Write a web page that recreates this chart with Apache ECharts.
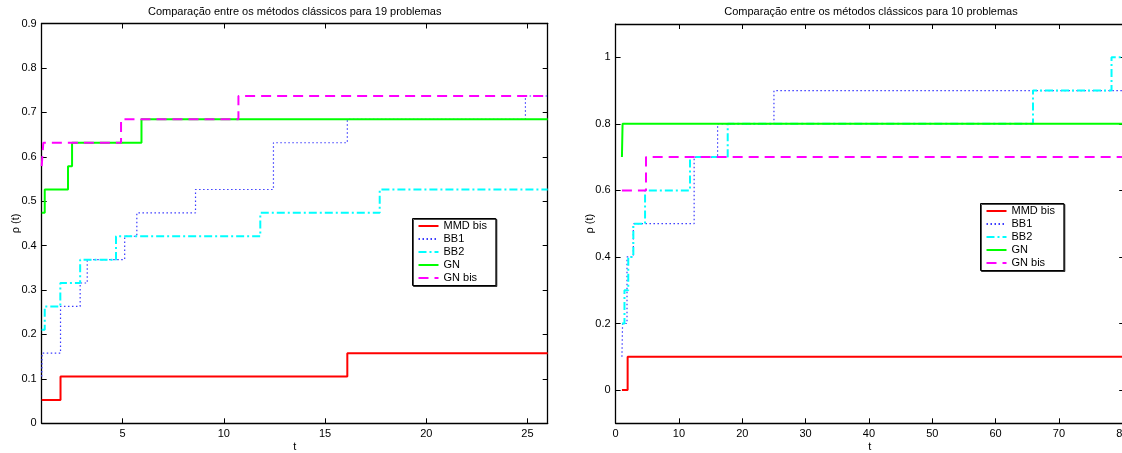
<!DOCTYPE html>
<html>
<head>
<meta charset="utf-8">
<script src="https://cdn.jsdelivr.net/npm/echarts@6/dist/echarts.min.js"></script>
<style>
  html, body { margin: 0; padding: 0; background: #fff; }
  #main { width: 1122px; height: 453px; }
</style>
</head>
<body>
<div id="main"></div>
<script>
// nomes das séries
var names = ['MMD bis', 'BB1', 'BB2', 'GN', 'GN bis'];

// gráfico da esquerda (19 problemas)
var xTicks19 = [5, 10, 15, 20, 25];
var mmd19T = [1, 1.93, 16.1, 26];
var mmd19V = [0.0526, 0.1053, 0.1579, 0.1579];
var bb1_19T = [1, 1.02, 1.93, 2.9, 3.25, 5.1, 5.7, 8.6, 12.45, 16.1, 24.9, 26];
var bb1_19V = [0.1053, 0.1579, 0.2632, 0.3158, 0.3684, 0.4211, 0.4737, 0.5263, 0.6316, 0.6842, 0.7368, 0.7368];
var bb2_19T = [1, 1.15, 1.92, 2.9, 4.67, 11.8, 17.7, 26];
var bb2_19V = [0.2105, 0.2632, 0.3158, 0.3684, 0.4211, 0.4737, 0.5263, 0.5263];
var gn19T = [1, 1.15, 2.3, 2.5, 5.93, 26];
var gn19V = [0.4737, 0.5263, 0.5789, 0.6316, 0.6842, 0.6842];
var gnbis19T = [1, 1.08, 4.92, 10.72, 26];
var gnbis19V = [0.5789, 0.6316, 0.6842, 0.7368, 0.7368];

// gráfico da direita (10 problemas)
var xTicks10 = [0, 10, 20, 30, 40, 50, 60, 70, 80];
var yTicks10 = [0, 0.2, 0.4, 0.6, 0.8, 1];
var mmd10T = [1, 1.9, 81];
var mmd10V = [0, 0.1, 0.1];
var bb1_10T = [1, 1.1, 1.8, 2.8, 12.4, 16.1, 25, 81];
var bb1_10V = [0.1, 0.2, 0.4, 0.5, 0.7, 0.8, 0.9, 0.9];
var bb2_10T = [1, 1.4, 2.0, 2.8, 4.65, 11.75, 17.7, 65.9, 78.3, 81];
var bb2_10V = [0.2, 0.3, 0.4, 0.5, 0.6, 0.7, 0.8, 0.9, 1.0, 1.0];
var gn10T = [1, 1.1, 81];
var gn10V = [0.7, 0.8, 0.8];
var gnbis10T = [1, 4.8, 81];
var gnbis10V = [0.6, 0.7, 0.7];

var FONT = '"Liberation Sans", Arial, Helvetica, sans-serif';

function pares(t, v){
    var arr = [];
    for(var i = 0; i < t.length; i++){
        arr.push([t[i], v[i]]);
    }
    return arr;
}

// estilos das linhas (cor, largura, tipo)
var estilos = [
    {color:'#ff0000', width:2, type:'solid'},
    {color:'#3b3bff', width:1.2, type:[1.5, 2.5]},
    {color:'#00ffff', width:2, type:[8, 3, 2, 3]},
    {color:'#00ff00', width:2, type:'solid'},
    {color:'#ff00ff', width:2, type:[10, 6]}
];

function serie(i, grid, t, v){
    return {
        name: names[i],
        type: 'line',
        step: 'end',
        symbol: 'none',
        xAxisIndex: grid * 2,
        yAxisIndex: grid * 2,
        data: pares(t, v),
        lineStyle: estilos[i],
        itemStyle: {color: estilos[i].color},
        animation: false
    };
}

function eixoX(grid, min, max, ticks, pos){
    var principal = pos === 'bottom';
    return {
        type: 'value', gridIndex: grid, position: pos,
        min: min, max: max,
        splitLine: {show: false},
        axisLine: {onZero: false, lineStyle: {color: '#000', width: 1.3}},
        axisTick: {inside: true, length: 5, customValues: ticks, lineStyle: {color: '#000'}},
        axisLabel: {show: principal, customValues: ticks, margin: 5, color: '#000', fontSize: 11, fontFamily: FONT},
        name: principal ? 't' : '',
        nameLocation: 'middle', nameGap: 18, nameMoveOverlap: false,
        nameTextStyle: {color: '#000', fontSize: 11, fontFamily: FONT}
    };
}

function eixoY(grid, min, max, ticks, pos){
    var principal = pos === 'left';
    return {
        type: 'value', gridIndex: grid, position: pos,
        min: min, max: max,
        splitLine: {show: false},
        axisLine: {onZero: false, lineStyle: {color: '#000', width: 1.3}},
        axisTick: {inside: true, length: 5, customValues: ticks, lineStyle: {color: '#000'}},
        axisLabel: {show: principal, customValues: ticks, margin: 5, color: '#000', fontSize: 11, fontFamily: FONT},
        name: principal ? 'ρ (t)' : '',
        nameLocation: 'middle', nameGap: 20, nameMoveOverlap: false,
        nameTextStyle: {color: '#000', fontSize: 11, fontFamily: FONT}
    };
}

function legenda(left, top){
    return {
        orient: 'vertical',
        left: left, top: top,
        data: names,
        selectedMode: false,
        padding: [1, 9, 1, 5],
        itemWidth: 20, itemHeight: 13, itemGap: 0,
        itemStyle: {opacity: 0},
        backgroundColor: '#fff',
        borderColor: '#000', borderWidth: 1,
        shadowColor: 'rgba(0,0,0,0.7)', shadowOffsetX: 1, shadowOffsetY: 1, shadowBlur: 0,
        textStyle: {color: '#000', fontSize: 11, fontFamily: FONT, lineHeight: 13}
    };
}

var yTicks19 = [0, 0.1, 0.2, 0.3, 0.4, 0.5, 0.6, 0.7, 0.8, 0.9];

var myChart = echarts.init(document.getElementById('main'), null, {renderer: 'canvas'});
myChart.setOption({
    backgroundColor: '#fff',
    animation: false,
    grid: [
        {left: 41.7, top: 23.5, width: 506, height: 399.8, outerBoundsMode: 'none', containLabel: false},
        {left: 615.6, top: 24, width: 508.6, height: 399.3, outerBoundsMode: 'none', containLabel: false}
    ],
    xAxis: [
        eixoX(0, 1, 26, xTicks19, 'bottom'),
        eixoX(0, 1, 26, xTicks19, 'top'),
        eixoX(1, 0, 80.3, xTicks10, 'bottom'),
        eixoX(1, 0, 80.3, xTicks10, 'top')
    ],
    yAxis: [
        eixoY(0, 0, 0.9, yTicks19, 'left'),
        eixoY(0, 0, 0.9, yTicks19, 'right'),
        eixoY(1, -0.1, 1.1, yTicks10, 'left'),
        eixoY(1, -0.1, 1.1, yTicks10, 'right')
    ],
    legend: [
        legenda(412.5, 218.5),
        legenda(980.5, 203.5)
    ],
    graphic: [
        {type: 'text', x: 294.7, y: 12, style: {text: 'Comparação entre os métodos clássicos para 19 problemas', fill: '#000', font: '11px ' + FONT, textAlign: 'center', textVerticalAlign: 'middle'}},
        {type: 'text', x: 871, y: 12, style: {text: 'Comparação entre os métodos clássicos para 10 problemas', fill: '#000', font: '11px ' + FONT, textAlign: 'center', textVerticalAlign: 'middle'}}
    ],
    series: [
        serie(0, 0, mmd19T, mmd19V),
        serie(1, 0, bb1_19T, bb1_19V),
        serie(2, 0, bb2_19T, bb2_19V),
        serie(3, 0, gn19T, gn19V),
        serie(4, 0, gnbis19T, gnbis19V),
        serie(0, 1, mmd10T, mmd10V),
        serie(1, 1, bb1_10T, bb1_10V),
        serie(2, 1, bb2_10T, bb2_10V),
        serie(3, 1, gn10T, gn10V),
        serie(4, 1, gnbis10T, gnbis10V)
    ]
});
</script>
</body>
</html>
